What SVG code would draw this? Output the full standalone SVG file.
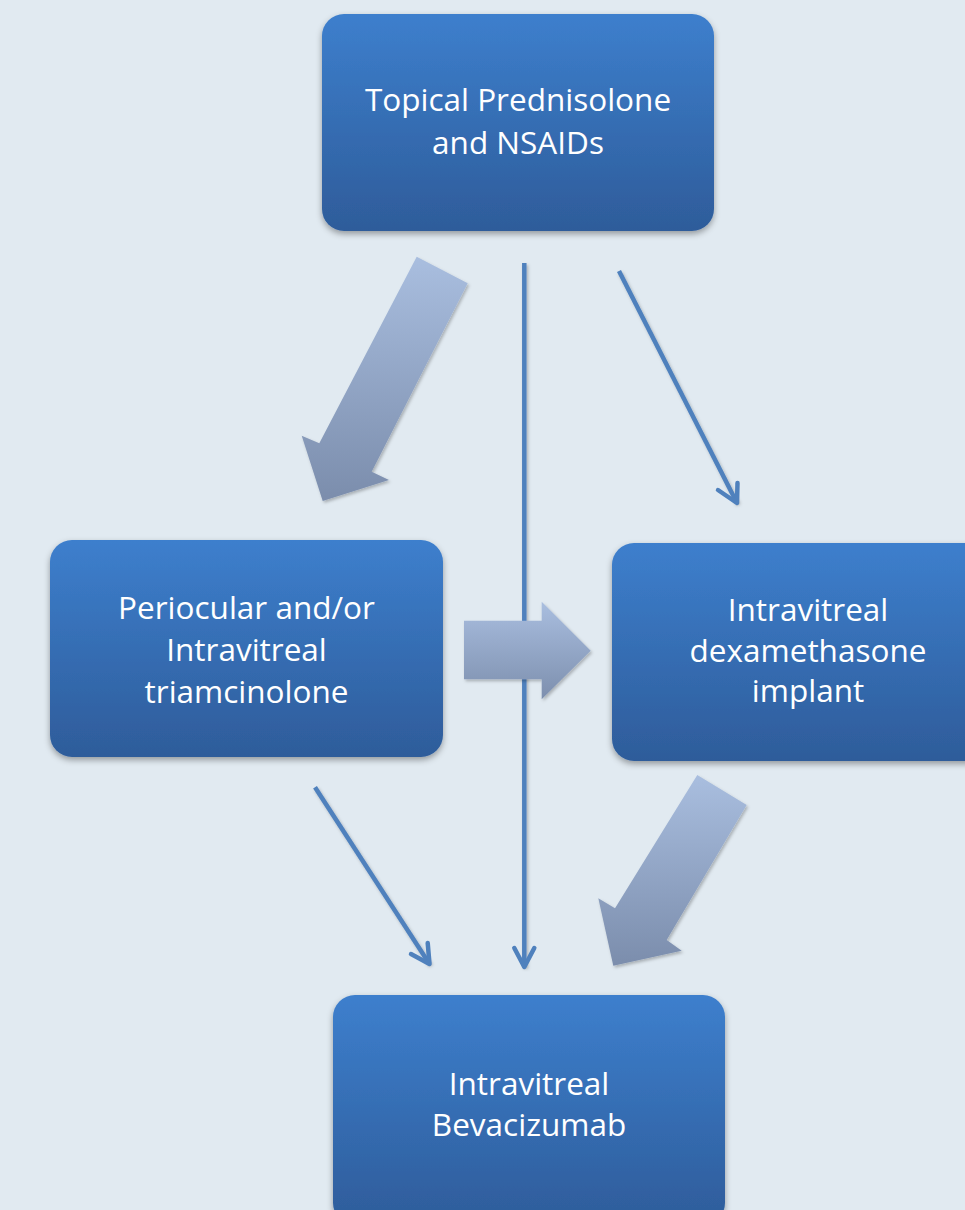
<svg xmlns="http://www.w3.org/2000/svg" width="965" height="1210" viewBox="0 0 965 1210">
<defs>
<style>
.box{fill:url(#boxg);filter:url(#sh)}
.lbl{font-family:"Open Sans","Liberation Sans",sans-serif;font-size:31.5px;fill:#ffffff;text-anchor:middle}
.thin{stroke:#4f81bd;stroke-width:4.5;fill:none;stroke-linecap:butt;filter:url(#sh2)}
.head{stroke:#4f81bd;stroke-width:4.5;fill:none;stroke-linecap:round;stroke-linejoin:round}
.big{filter:url(#sh2)}
</style>
<linearGradient id="boxg" x1="0" y1="0" x2="0" y2="1">
<stop offset="0" stop-color="#3d7fcd"/>
<stop offset="1" stop-color="#2e5c9a"/>
</linearGradient>
<linearGradient id="ag1" gradientUnits="userSpaceOnUse" x1="0" y1="257" x2="0" y2="501">
<stop offset="0" stop-color="#a9bedf"/>
<stop offset="1" stop-color="#7b8dac"/>
</linearGradient>
<linearGradient id="ag2" gradientUnits="userSpaceOnUse" x1="0" y1="602" x2="0" y2="699">
<stop offset="0" stop-color="#a9bedf"/>
<stop offset="1" stop-color="#7d8fae"/>
</linearGradient>
<linearGradient id="ag3" gradientUnits="userSpaceOnUse" x1="0" y1="775" x2="0" y2="966">
<stop offset="0" stop-color="#a9bedf"/>
<stop offset="1" stop-color="#7b8dac"/>
</linearGradient>
<filter id="sh" x="-10%" y="-10%" width="120%" height="125%">
<feDropShadow dx="0" dy="3" stdDeviation="3" flood-color="#000" flood-opacity="0.35"/>
</filter>
<filter id="sh2" x="-20%" y="-20%" width="140%" height="140%">
<feDropShadow dx="1.5" dy="2" stdDeviation="1.5" flood-color="#000" flood-opacity="0.25"/>
</filter>
</defs>
<rect x="0" y="0" width="965" height="1210" fill="#e1eaf1"/>

<g id="connectors">
<g class="thin">
<line x1="524.3" y1="263" x2="524.3" y2="967"/>
<line x1="619" y1="271" x2="737" y2="503"/>
<line x1="315" y1="787.3" x2="429.5" y2="964"/>
</g>
<g class="head">
<polyline points="514.3,948 524.3,967 534.3,948"/>
<polyline points="718,490 737,503 737.5,483"/>
<polyline points="411,954 429.5,964 427.7,943"/>
</g>
<path class="big" fill="url(#ag1)" d="M416.7,256.7 L467.7,283.3 L371.7,471.7 L389,480 L322.7,501 L301.7,435.7 L319.3,443.3 Z"/>
<path class="big" fill="url(#ag2)" d="M464,620.7 L541.7,620.7 L541.7,601.7 L590.7,650.7 L541.7,699.3 L541.7,679.3 L464,679.3 Z"/>
<path class="big" fill="url(#ag3)" d="M697.3,775 L746.7,805 L666.7,940 L681.7,950.7 L613.3,965.7 L598.3,898.3 L615,908.3 Z"/>
</g>

<g id="node-topical">
<rect class="box" x="322" y="14" width="392" height="217" rx="22"/>
<text class="lbl" x="518" y="111">Topical Prednisolone</text>
<text class="lbl" x="518" y="154">and NSAIDs</text>
</g>
<g id="node-periocular">
<rect class="box" x="50" y="540" width="393" height="217" rx="22"/>
<text class="lbl" x="246.5" y="619">Periocular and/or</text>
<text class="lbl" x="246.5" y="661">Intravitreal</text>
<text class="lbl" x="246.5" y="703">triamcinolone</text>
</g>
<g id="node-dexamethasone">
<rect class="box" x="612" y="543" width="393" height="218" rx="22"/>
<text class="lbl" x="808" y="621">Intravitreal</text>
<text class="lbl" x="808" y="662">dexamethasone</text>
<text class="lbl" x="808" y="702">implant</text>
</g>
<g id="node-bevacizumab">
<rect class="box" x="333" y="995" width="392" height="230" rx="22"/>
<text class="lbl" x="529" y="1095">Intravitreal</text>
<text class="lbl" x="529" y="1136">Bevacizumab</text>
</g>
</svg>
